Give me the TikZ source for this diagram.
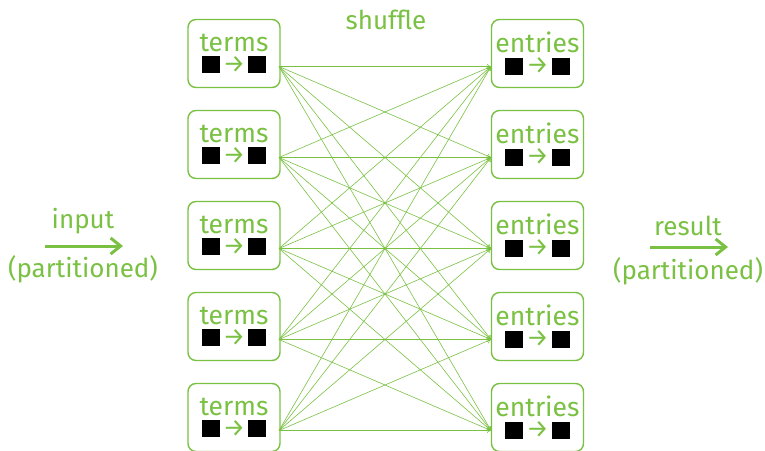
\documentclass[tikz,border=0pt]{standalone}
\usepackage{fontspec}
\setmainfont{Fira Sans}
\usetikzlibrary{arrows.meta}
\definecolor{vert}{RGB}{122,193,67}
\newcommand{\noircarre}{{\color{black}\rule{18pt}{17pt}}}
\newcommand{\petitefleche}{\hspace{3pt}{\fontsize{25}{22}\selectfont\raisebox{1pt}{→}}\hspace{3pt}}

\begin{document}
\begin{tikzpicture}[x=1pt, y=-1pt]
\tikzset{boite/.style={draw=vert, line width=1.4pt, rounded corners=8pt, text=vert,
  minimum width=92pt, minimum height=68pt, inner sep=0pt, align=center,
  font=\fontsize{26.5}{22}\selectfont}}
\tikzset{etiq/.style={text=vert, inner sep=0pt, font=\fontsize{26}{30}\selectfont}}
\tikzset{lien/.style={draw=vert, line width=0.6pt, -{To[length=4pt, width=5pt]}}}
\tikzset{grosse/.style={draw=vert, line width=3pt, -{Straight Barb[length=10pt, width=16pt]}}}
\useasboundingbox (0, 0) rectangle (765, 450);
\node[boite] (T1) at (234, 53.5) {terms\\\noircarre\petitefleche\noircarre};
\node[boite] (T2) at (234, 144.5) {terms\\\noircarre\petitefleche\noircarre};
\node[boite] (T3) at (234, 235.5) {terms\\\noircarre\petitefleche\noircarre};
\node[boite] (T4) at (234, 326.5) {terms\\\noircarre\petitefleche\noircarre};
\node[boite] (T5) at (234, 417.5) {terms\\\noircarre\petitefleche\noircarre};
\node[boite] (E1) at (537.5, 53.5) {entries\\\noircarre\petitefleche\noircarre};
\node[boite] (E2) at (537.5, 144.5) {entries\\\noircarre\petitefleche\noircarre};
\node[boite] (E3) at (537.5, 235.5) {entries\\\noircarre\petitefleche\noircarre};
\node[boite] (E4) at (537.5, 326.5) {entries\\\noircarre\petitefleche\noircarre};
\node[boite] (E5) at (537.5, 417.5) {entries\\\noircarre\petitefleche\noircarre};
\node[etiq] (shuffle) at (386, 20) {shuffle};
% points de depart et d'arrivee
\coordinate (S1) at (279, 66.5);
\coordinate (S2) at (279, 157.5);
\coordinate (S3) at (279, 248.5);
\coordinate (S4) at (279, 339.5);
\coordinate (S5) at (279, 430.5);
\coordinate (A1) at (491, 66.5);
\coordinate (A2) at (491, 157.5);
\coordinate (A3) at (491, 248.5);
\coordinate (A4) at (491, 339.5);
\coordinate (A5) at (491, 430.5);
\draw[lien] (S1) -- (A1);
\draw[lien] (S1) -- (A2);
\draw[lien] (S1) -- (A3);
\draw[lien] (S1) -- (A4);
\draw[lien] (S1) -- (A5);
\draw[lien] (S2) -- (A1);
\draw[lien] (S2) -- (A2);
\draw[lien] (S2) -- (A3);
\draw[lien] (S2) -- (A4);
\draw[lien] (S2) -- (A5);
\draw[lien] (S3) -- (A1);
\draw[lien] (S3) -- (A2);
\draw[lien] (S3) -- (A3);
\draw[lien] (S3) -- (A4);
\draw[lien] (S3) -- (A5);
\draw[lien] (S4) -- (A1);
\draw[lien] (S4) -- (A2);
\draw[lien] (S4) -- (A3);
\draw[lien] (S4) -- (A4);
\draw[lien] (S4) -- (A5);
\draw[lien] (S5) -- (A1);
\draw[lien] (S5) -- (A2);
\draw[lien] (S5) -- (A3);
\draw[lien] (S5) -- (A4);
\draw[lien] (S5) -- (A5);
% entree et resultat
\coordinate (I1) at (45, 246);
\coordinate (I2) at (123, 246);
\coordinate (R1) at (650, 247);
\coordinate (R2) at (728, 247);
\draw[grosse] (I1) -- (I2);
\draw[grosse] (R1) -- (R2);
\node[etiq, anchor=base] (input) at (83, 228) {input};
\node[etiq, anchor=base] (inpart) at (83, 277) {(partitioned)};
\node[etiq, anchor=base] (result) at (688, 235) {result};
\node[etiq, anchor=base] (respart) at (688, 279) {(partitioned)};
\end{tikzpicture}
\end{document}
